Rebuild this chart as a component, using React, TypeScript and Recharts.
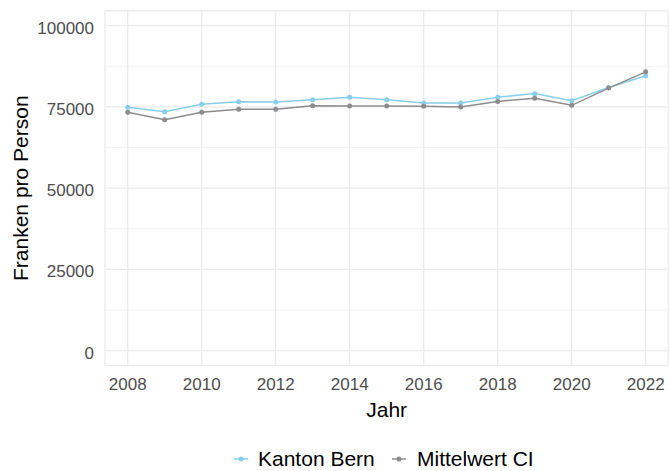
import React from 'react';
import { LineChart, Line, XAxis, YAxis, CartesianGrid, Legend } from 'recharts';

const years = [2008, 2009, 2010, 2011, 2012, 2013, 2014, 2015, 2016, 2017, 2018, 2019, 2020, 2021, 2022];
const kantonBern = [74900, 73500, 75800, 76600, 76500, 77200, 78000, 77200, 76200, 76200, 78000, 79100, 76900, 81000, 84600];
const mittelwertCI = [73400, 71100, 73400, 74300, 74300, 75400, 75300, 75300, 75200, 75000, 76700, 77700, 75500, 80800, 85800];
const xTicks = [2008, 2010, 2012, 2014, 2016, 2018, 2020, 2022];
const yTicks = [0, 25000, 50000, 75000, 100000];
const yMinor = [12500, 37500, 62500, 87500];
const seriesNames = ['Kanton Bern', 'Mittelwert CI'];

const data = years.map((y, i) => ({ year: y, kb: kantonBern[i], mw: mittelwertCI[i] }));

const FONT = '"Liberation Sans", Arial, Helvetica, sans-serif';
const BLUE = '#87CEEB';
const GREY = '#8C8C8C';

const YTick = (props: any) => (
  <text x={props.x} y={props.y + 2} dy="0.355em" textAnchor="end" fill="#4D4D4D" fontSize={17} fontFamily={FONT}>
    {props.payload.value}
  </text>
);

const XTick = (props: any) => (
  <text x={props.x} y={props.y} dy="0.71em" textAnchor="middle" fill="#4D4D4D" fontSize={17} fontFamily={FONT}>
    {props.payload.value}
  </text>
);

const YLabel = (props: any) => {
  const vb = props.viewBox || { x: 0, y: 0, width: 105, height: 355 };
  const x = vb.x + 28;
  const y = vb.y + vb.height / 2;
  return (
    <text x={x} y={y} transform={`rotate(-90, ${x}, ${y})`} textAnchor="middle" fill="#000" fontSize={21} fontFamily={FONT}>
      Franken pro Person
    </text>
  );
};

const XLabel = (props: any) => {
  const vb = props.viewBox || { x: 105, y: 366, width: 563, height: 81 };
  const x = vb.x + vb.width / 2;
  const y = vb.y + 51;
  return (
    <text x={x} y={y} textAnchor="middle" fill="#000" fontSize={21} fontFamily={FONT}>
      Jahr
    </text>
  );
};

const LegendContent = () => {
  const items = [
    { name: seriesNames[0], color: BLUE, keyLeft: 234, textLeft: 258 },
    { name: seriesNames[1], color: GREY, keyLeft: 392, textLeft: 417 },
  ];
  return (
    <div style={{ position: 'relative', width: 669, height: 24, fontFamily: FONT }}>
      {items.map((it) => (
        <React.Fragment key={it.name}>
          <svg width={14} height={24} style={{ position: 'absolute', left: it.keyLeft, top: 0 }}>
            <line x1={0} y1={12} x2={14} y2={12} stroke={it.color} strokeWidth={1.5} />
            <circle cx={7} cy={12} r={2.5} fill={it.color} />
          </svg>
          <span style={{ position: 'absolute', left: it.textLeft, top: 0, lineHeight: '24px', fontSize: 21, color: '#000', whiteSpace: 'nowrap' }}>
            {it.name}
          </span>
        </React.Fragment>
      ))}
    </div>
  );
};

export default function App() {
  return (
    <div style={{ position: 'absolute', left: 0, top: 0, width: 669, height: 471, background: '#fff' }}>
      <LineChart width={669} height={471} data={data} margin={{ top: 10.75, right: 0.6, left: 0, bottom: 0 }}>
        <CartesianGrid horizontalValues={yMinor} vertical={false} stroke="#EFEFEF" strokeWidth={0.8} />
        <CartesianGrid stroke="#EBEBEB" strokeWidth={1.3} />
        <XAxis
          dataKey="year"
          type="number"
          domain={[2007.386, 2022.614]}
          ticks={xTicks}
          tickLine={false}
          axisLine={false}
          tickSize={0}
          tickMargin={12}
          height={81.35}
          tick={<XTick />}
          label={<XLabel />}
          interval={0}
        />
        <YAxis
          type="number"
          domain={[-4600, 104600]}
          ticks={yTicks}
          tickLine={false}
          axisLine={false}
          tickSize={0}
          tickMargin={11}
          width={105}
          tick={<YTick />}
          label={<YLabel />}
          interval={0}
        />
        <Legend verticalAlign="bottom" content={<LegendContent />} wrapperStyle={{ left: 0, bottom: 0, width: 669, height: 24 }} />
        <Line
          type="linear"
          dataKey="kb"
          name={seriesNames[0]}
          stroke={BLUE}
          strokeWidth={1.5}
          dot={{ r: 2.5, fill: BLUE, stroke: BLUE, strokeWidth: 0 }}
          activeDot={false}
          isAnimationActive={false}
        />
        <Line
          type="linear"
          dataKey="mw"
          name={seriesNames[1]}
          stroke={GREY}
          strokeWidth={1.5}
          dot={{ r: 2.5, fill: GREY, stroke: GREY, strokeWidth: 0 }}
          activeDot={false}
          isAnimationActive={false}
        />
      </LineChart>
    </div>
  );
}
